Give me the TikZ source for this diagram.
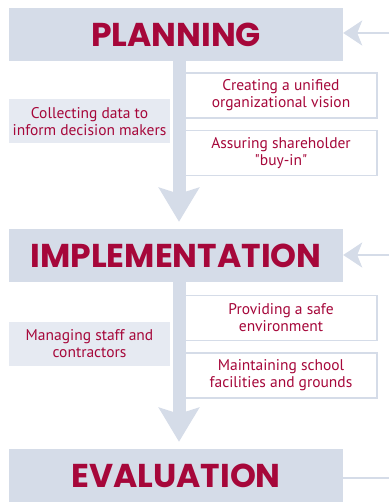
\documentclass[tikz,border=0pt]{standalone}
\usepackage{fontspec}
\setmainfont{PT Sans}[Ligatures=TeXOff]
\newfontfamily\titlefont{Poppins}
\usepackage{xcolor}
\usetikzlibrary{arrows.meta, positioning}
\definecolor{boxblue}{HTML}{D5DCE8}
\definecolor{paleblue}{HTML}{E6EAF2}
\definecolor{crimson}{HTML}{A6073A}

\begin{document}
\begin{tikzpicture}[x=1pt, y=-1pt, >=Stealth,
  stage/.style={fill=boxblue, minimum width=334pt, minimum height=53pt, inner sep=0pt,
    text=crimson, font=\titlefont\bfseries\fontsize{33}{33}\selectfont},
  task/.style={draw=boxblue, line width=1.5pt, fill=white, minimum width=192pt,
    minimum height=45pt, inner sep=0pt, align=center, text=crimson,
    font=\fontsize{15.5}{17}\selectfont},
  side/.style={fill=paleblue, minimum width=161pt, minimum height=44pt, inner sep=0pt,
    align=center, text=crimson, font=\fontsize{15.5}{17}\selectfont},
  flow/.style={draw=boxblue, line width=13pt, -{Stealth[width=40pt, length=34pt, inset=6pt]}},
  feed/.style={draw=boxblue, line width=2pt, -{Stealth[width=25pt, length=19pt, inset=5pt]}}]

\useasboundingbox (0,0) rectangle (389,502);

% Stage boxes
\node[stage] (plan) at (176,34.5) {PLANNING};
\node[stage] (impl) at (176,255.5) {IMPLEMENTATION};
\node[stage] (eval) at (176,475.5) {EVALUATION};

% Main flow
\draw[flow] ([xshift=3pt]plan.south) -- ([xshift=3pt, yshift=7pt]impl.north);
\draw[flow] ([xshift=3pt]impl.south) -- ([xshift=3pt, yshift=7pt]eval.north);

% Planning tasks
\node[task] (vision) at (281,95.5) {Creating a unified\\organizational vision};
\node[task] (buyin) at (281,153) {Assuring shareholder\\"buy-in"};
\node[side] (data) at (89.5,121.5) {Collecting data to\\inform decision makers};

% Implementation tasks
\node[task] (safe) at (281,318) {Providing a safe\\environment};
\node[task] (grounds) at (281,375.5) {Maintaining school\\facilities and grounds};
\node[side] (staff) at (89.5,344) {Managing staff and\\contractors};

% Feedback from the right
\coordinate (inplan) at (389,33);
\coordinate (inimpl) at (389,255);
\coordinate (outeval) at (389,478);
\draw[feed] (inplan) -- (plan.east |- inplan);
\draw[feed] (inimpl) -- (impl.east |- inimpl);
\draw[draw=boxblue, line width=2pt] (eval.east |- outeval) -- (outeval);

\end{tikzpicture}
\end{document}
